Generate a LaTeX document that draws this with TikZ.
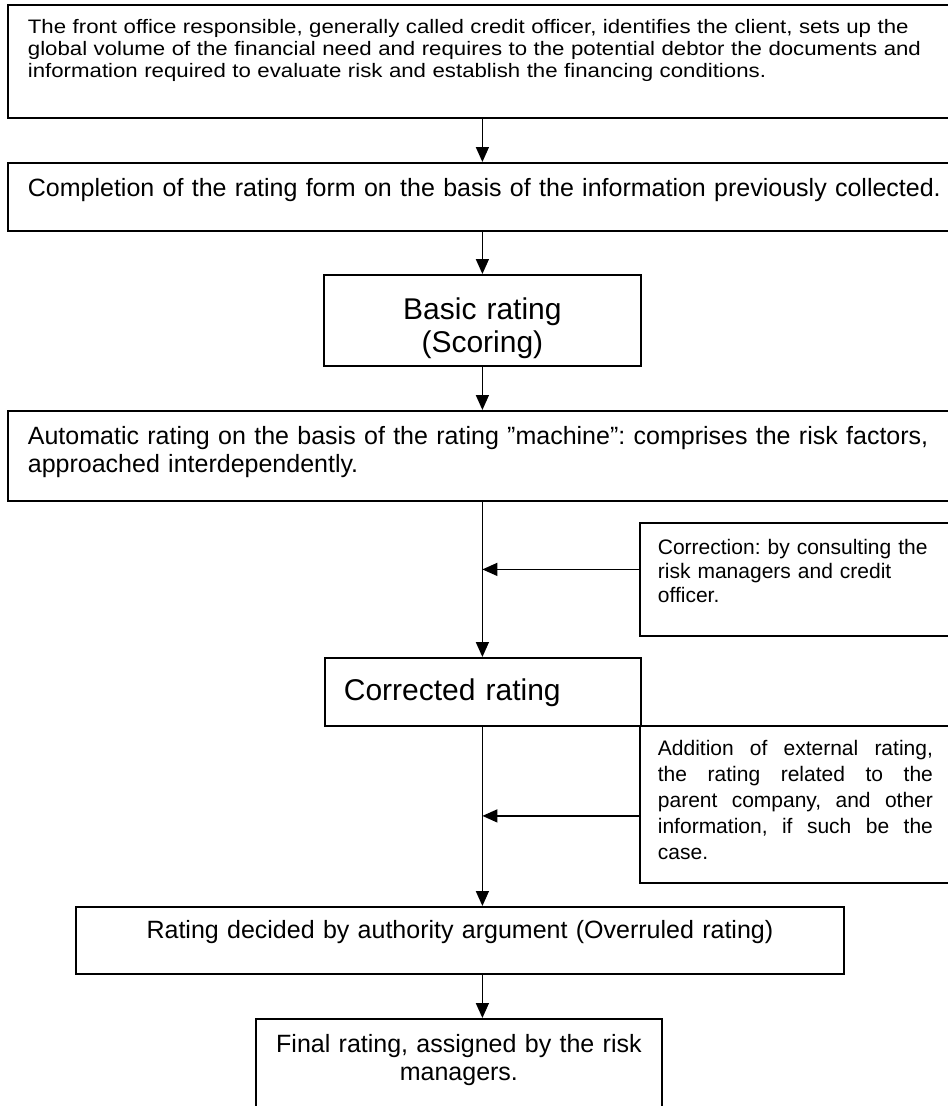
\documentclass[tikz,border=0pt]{standalone}
\usepackage{fontspec}
\setmainfont{Liberation Sans}
\newfontfamily\widesans{Liberation Sans}[FakeStretch=1.14]
\usetikzlibrary{arrows.meta}
\frenchspacing

\begin{document}
\begin{tikzpicture}[x=1pt, y=-1pt,
    box/.style={draw, line width=1.8pt, inner ysep=0pt, anchor=north west},
    arr/.style={-{Triangle[length=15pt, width=13pt]}, line width=1.5pt}]
    \useasboundingbox (0,0) rectangle (948,1106);
    \clip (0,0) rectangle (948,1106);

    % Main boxes
    \node[box, inner xsep=20pt, text width=950pt, align=left, text height=29pt, text depth=84pt,
          font=\widesans\fontsize{19.5}{22}\selectfont] (front) at (7,4)
      {The front office responsible, generally called credit officer, identifies the client, sets up the\\
       global volume of the financial need and requires to the potential debtor the documents and\\
       information required to evaluate risk and establish the financing conditions.};
    \node[box, inner xsep=20pt, text width=950pt, align=left, text height=34pt, text depth=34pt,
          font=\fontsize{25}{28}\selectfont] (compl) at (7,162)
      {Completion of the rating form on the basis of the information previously collected.};
    \node[box, inner xsep=0pt, text width=317pt, align=center, text height=45pt, text depth=46pt,
          font=\fontsize{30}{33}\selectfont] (basic) at (323,274)
      {Basic rating\\(Scoring)};
    \node[box, inner xsep=20pt, text width=950pt, align=left, text height=34pt, text depth=56pt,
          font=\fontsize{25}{28}\selectfont] (auto) at (7,410)
      {Automatic rating on the basis of the rating ”machine”: comprises the risk factors,\\
       approached interdependently.};
    \node[box, inner xsep=19pt, text width=278pt, align=left, text height=43pt, text depth=25pt,
          font=\fontsize{30}{33}\selectfont] (corr) at (324,657)
      {Corrected rating};
    \node[box, inner xsep=0pt, text width=768pt, align=center, text height=32pt, text depth=35pt,
          font=\fontsize{25}{28}\selectfont] (over) at (75,906)
      {Rating decided by authority argument (Overruled rating)};
    \node[box, inner xsep=0pt, text width=406pt, align=center, text height=34pt, text depth=60pt,
          font=\fontsize{25}{28}\selectfont] (final) at (255,1018)
      {Final rating, assigned by the risk\\managers.};

    % Side boxes
    \node[box, inner xsep=18pt, text width=280pt, align=left, text height=32pt, text depth=81pt,
          font=\fontsize{21}{24}\selectfont] (fix) at (639,522)
      {Correction: by consulting the\\risk managers and credit\\officer.};
    \node[box, inner xsep=18pt, text width=275pt, align=justify, text height=30pt, text depth=127pt,
          font=\fontsize{21}{26}\selectfont] (extra) at (639,725)
      {Addition of external rating,\linebreak the rating related to the\linebreak
       parent company, and other\linebreak information, if such be the\linebreak case.};

    % Arrows
    \draw[arr] (front.south -| basic.north) -- (compl.north -| basic.north);
    \draw[arr] (compl.south -| basic.north) -- (basic.north);
    \draw[arr] (basic.south) -- (auto.north -| basic.south);
    \draw[arr] (auto.south -| basic.south) -- (basic.south |- corr.north);
    \draw[arr] (basic.south |- corr.south) -- (basic.south |- over.north);
    \draw[arr] (basic.south |- over.south) -- (basic.south |- final.north);

    \coordinate (fixin) at ([yshift=10pt]fix.west);
    \coordinate (extrain) at ([yshift=-11.5pt]extra.west);
    \draw[arr] (fixin) -- (fixin -| basic.south);
    \draw[arr] (extrain) -- (extrain -| basic.south);
\end{tikzpicture}
\end{document}
